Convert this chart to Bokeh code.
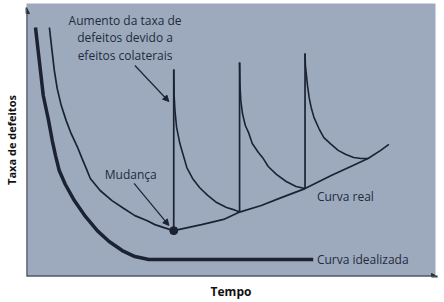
from bokeh.plotting import figure
from bokeh.models import Arrow, NormalHead
from bokeh.core.properties import value
from bokeh.embed import file_html
from bokeh.resources import INLINE

# Idealised failure curve: infant mortality, then a flat floor
t_ideal = [2.2, 2.7, 3.4, 4.1, 5.4, 6.3, 7.1, 8.0, 9.5, 11.7, 14.4, 17.3, 20.2, 23.4, 26.5, 29.9, 70.1]
r_ideal = [91.2, 84.6, 75.5, 66.3, 57.1, 49.8, 44.3, 38.8, 33.7, 27.8, 22.0, 16.8, 12.8, 9.5, 7.3, 6.2, 6.2]

# Actual curve before the first change
t_real = [5.6, 6.1, 6.8, 7.5, 8.5, 9.7, 10.9, 12.4, 13.6, 14.6, 15.6, 18.0, 20.9, 23.8, 26.5, 29.4,
          31.4, 33.6, 36.0]
r_real = [91.2, 84.6, 75.5, 68.9, 62.6, 57.1, 52.4, 47.6, 43.2, 39.6, 35.9, 31.5, 27.8, 24.9, 22.3,
          20.5, 19.0, 17.9, 16.8]

# Slowly rising trend of the actual curve after the change
t_base = [36.0, 42.8, 48.2, 52.1, 57.4, 62.3, 68.1, 74.5, 79.3, 83.5, 86.6, 88.6]
r_base = [16.8, 19.0, 20.9, 23.6, 26.0, 28.9, 32.2, 37.0, 40.3, 43.2, 46.2, 48.4]

# Spikes caused by each change (side effects)
t_spike = [36.0, 52.1, 68.1]
r_spike_low = [16.8, 23.6, 32.2]
r_spike_top = [75.8, 78.4, 81.7]

# Decay after each spike back to the trend
t_decay1 = [36.0, 36.1, 36.3, 36.7, 37.5, 39.2, 40.6, 42.3, 44.3, 46.5, 48.9, 50.6, 52.1]
r_decay1 = [75.8, 66.3, 60.8, 54.6, 48.7, 39.9, 35.9, 32.6, 29.7, 27.1, 25.3, 24.5, 23.6]
t_decay2 = [52.1, 52.2, 52.4, 52.8, 53.5, 54.3, 55.2, 56.7, 57.9, 59.1, 61.1, 63.5, 65.9, 68.1]
r_decay2 = [78.4, 70.0, 64.5, 59.7, 55.3, 52.7, 48.7, 45.4, 43.2, 40.3, 37.4, 34.8, 33.0, 32.2]
t_decay3 = [68.1, 68.2, 68.4, 68.7, 69.1, 69.6, 70.3, 71.5, 72.7, 74.5, 76.2, 78.1, 80.0, 81.8, 83.5]
r_decay3 = [81.7, 77.3, 74.4, 70.0, 65.6, 61.9, 58.2, 54.2, 50.9, 48.4, 46.2, 44.7, 43.6, 43.2, 43.2]

# Point where the first change happens
t_change = [36.0]
r_change = [16.8]

note_lines = ["Aumento da taxa de", "defeitos devido a", "efeitos colaterais"]
note_y = [93.8, 87.5, 81.0]

INK = "#1b2333"
TEXT = "#1f2a3d"
AXIS = "#2a2f38"
FONT = "Open Sans"

p = figure(width=444, height=302, x_range=(0, 100), y_range=(0, 100),
           output_backend="svg", toolbar_location=None,
           min_border_left=24, min_border_right=9, min_border_top=3, min_border_bottom=26)
p.grid.visible = False
p.outline_line_color = None
p.background_fill_color = "#9daabd"
p.border_fill_color = "white"

# Axes carry only their titles; lines are drawn as arrows below
for ax in (p.xaxis[0], p.yaxis[0]):
    ax.ticker = []
    ax.axis_line_color = None
    ax.major_tick_out = 0
    ax.major_tick_in = 0
    ax.minor_tick_out = 0
    ax.minor_tick_in = 0
    ax.major_label_standoff = 0
    ax.axis_label_text_font = FONT
    ax.axis_label_text_font_style = "bold"
    ax.axis_label_text_color = "#111111"
p.xaxis.axis_label = "Tempo"
p.xaxis.axis_label_text_font_size = "12px"
p.xaxis.axis_label_standoff = 6
p.yaxis.axis_label = "Taxa de defeitos"
p.yaxis.axis_label_text_font_size = "11px"
p.yaxis.axis_label_standoff = 8

# Curves
p.line(t_ideal, r_ideal, line_color=INK, line_width=3.5)
p.line(t_real, r_real, line_color=INK, line_width=1.7)
p.line(t_base, r_base, line_color=INK, line_width=1.7)
p.segment(x0=t_spike, y0=r_spike_low, x1=t_spike, y1=r_spike_top, line_color=INK, line_width=1.7)
for tx, ry in [(t_decay1, r_decay1), (t_decay2, r_decay2), (t_decay3, r_decay3)]:
    p.line(tx, ry, line_color=INK, line_width=1.6)
p.scatter(t_change, r_change, size=8, fill_color=INK, line_color=INK)

# Text annotations
p.text(x=[24.1] * 3, y=note_y, text=note_lines, text_font=value(FONT), text_font_size="12px",
       text_color=TEXT, text_align="center", text_baseline="middle")
p.text(x=[25.5], y=[37.4], text=["Mudança"], text_font=value(FONT), text_font_size="12px",
       text_color=TEXT, text_align="center", text_baseline="middle")
p.text(x=[71.0, 71.0], y=[29.3, 6.2], text=["Curva real", "Curva idealizada"],
       text_font=value(FONT), text_font_size="12px", text_color=TEXT,
       text_align="left", text_baseline="middle")

# Pointer arrows
for xs, ys, xe, ye in [(26.5, 77.3, 34.8, 64.1), (26.3, 34.1, 34.8, 18.7)]:
    p.add_layout(Arrow(x_start=xs, y_start=ys, x_end=xe, y_end=ye, line_color=INK, line_width=1.2,
                       end=NormalHead(size=6, fill_color=INK, line_color=INK)))

# Axis lines with arrow heads
p.add_layout(Arrow(x_start=0, y_start=0, x_end=0, y_end=98.5, line_color=AXIS, line_width=1.8,
                   end=NormalHead(size=6, fill_color=AXIS, line_color=AXIS)))
p.add_layout(Arrow(x_start=0, y_start=0, x_end=100.5, y_end=0, line_color=AXIS, line_width=1.8,
                   end=NormalHead(size=6, fill_color=AXIS, line_color=AXIS)))

open("out.html", "w").write(file_html(p, INLINE))
